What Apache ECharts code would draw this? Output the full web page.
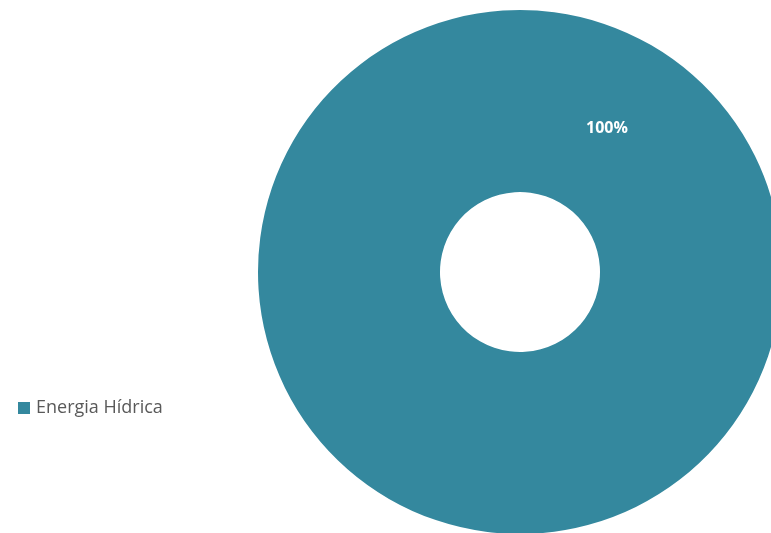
<!DOCTYPE html>
<html><head><meta charset="utf-8">
<script src="https://cdn.jsdelivr.net/npm/echarts@6/dist/echarts.min.js"></script>
<style>html,body{margin:0;padding:0;background:#fff}#c{width:771px;height:533px}</style>
</head><body><div id="c"></div>
<script>
const categories = ["Energia Hídrica"];
const values = [100];
const colors = ["#34889E"];
const chart = echarts.init(document.getElementById('c'), null, {renderer:'canvas'});
chart.setOption({
  animation:false,
  legend:{
    orient:'vertical', left:18, top:399, padding:0, itemWidth:12, itemHeight:12, itemGap:8,
    icon:'rect',
    textStyle:{fontFamily:'Open Sans', fontSize:18, color:'#595959', padding:[0,0,0,1]},
    data:categories
  },
  series:[{
    type:'pie',
    center:[520,272],
    radius:[80,262],
    startAngle:240,
    silent:true,
    label:{show:true, position:'inside', formatter:'{d}%', color:'#fff', fontWeight:'bold', fontFamily:'Open Sans', fontSize:16, offset:[0,7]},
    labelLine:{show:false},
    itemStyle:{borderColor:'#fff', borderWidth:0},
    data: categories.map((n,i)=>({name:n, value:values[i], itemStyle:{color:colors[i]}}))
  }]
});
</script></body></html>
